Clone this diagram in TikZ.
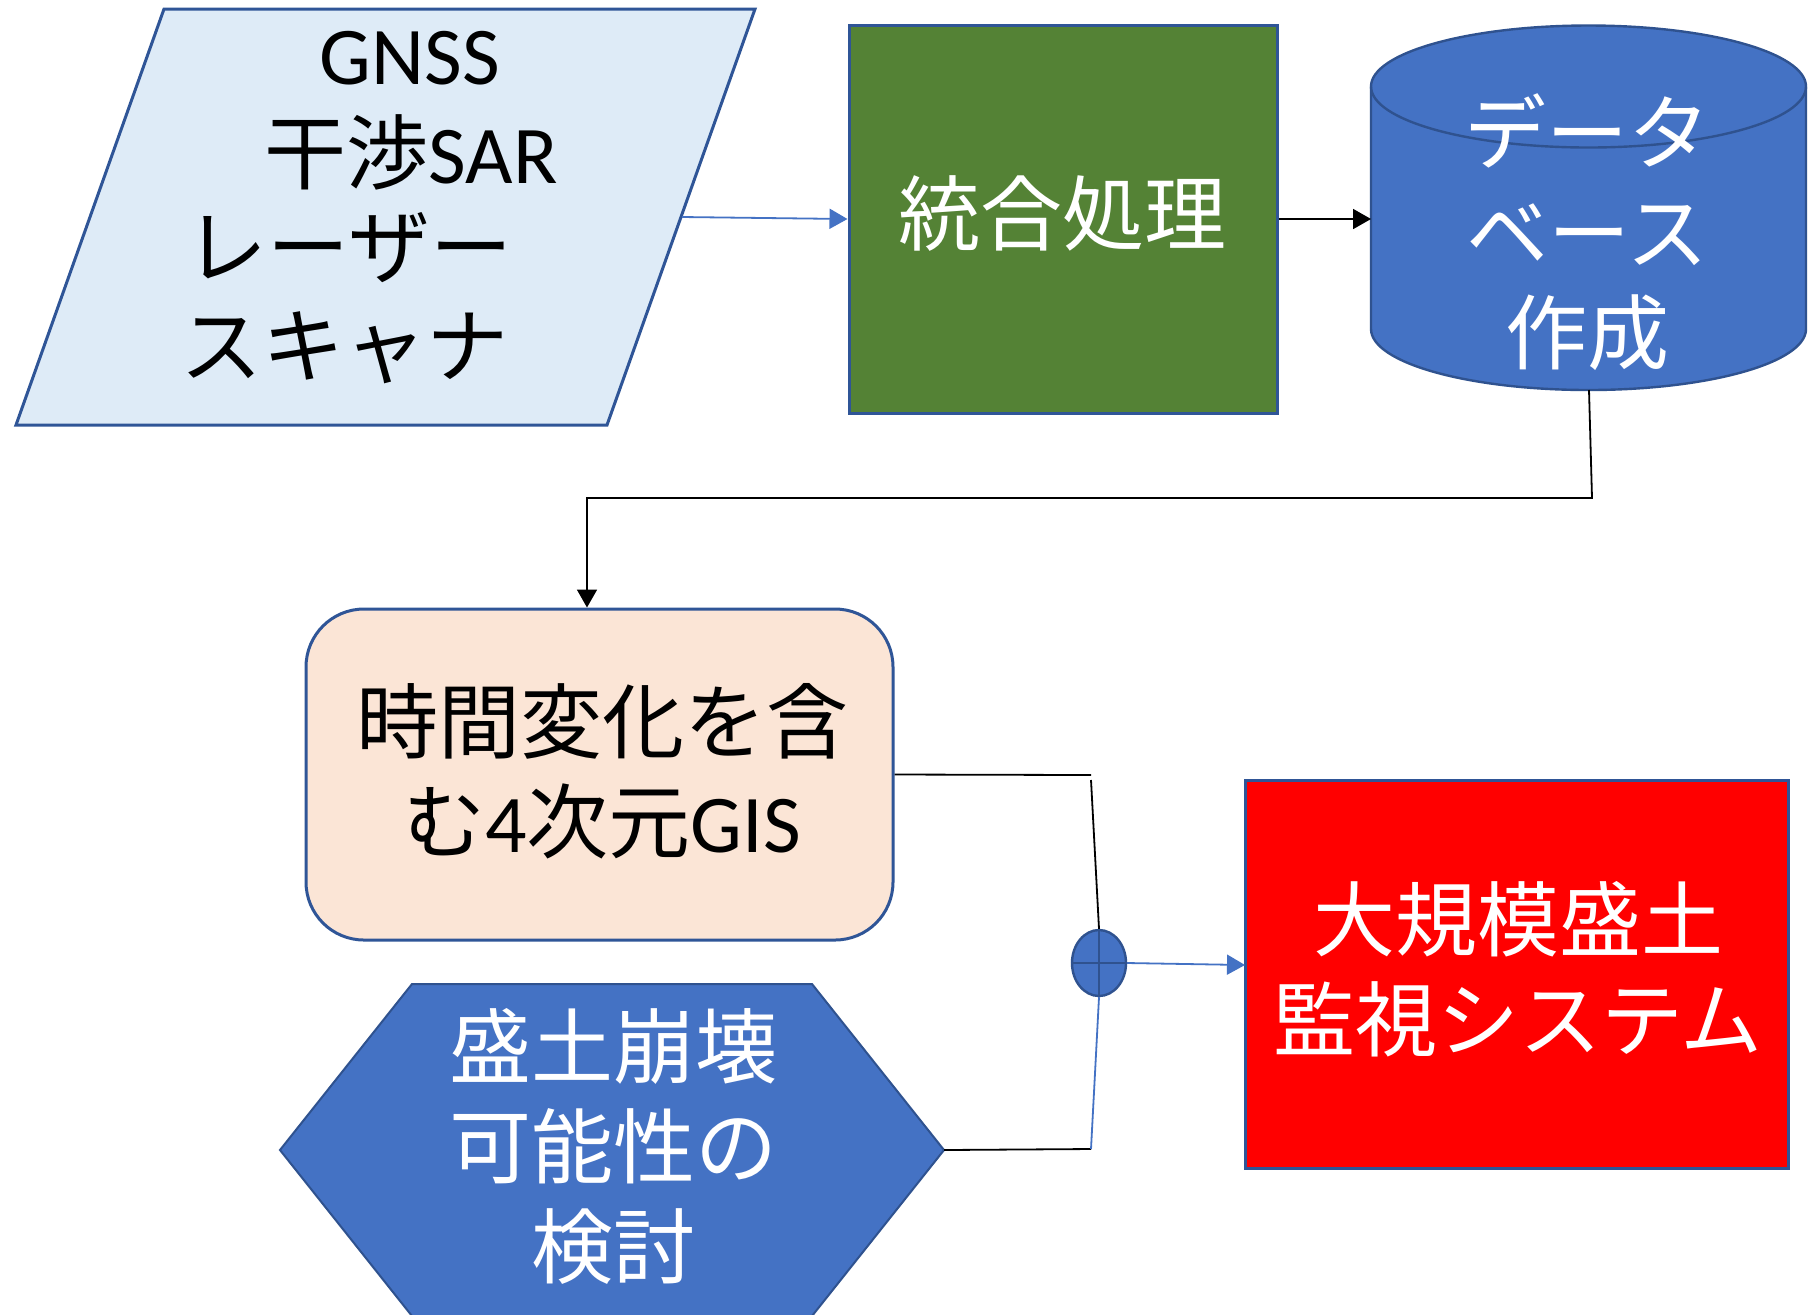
\documentclass[tikz,border=0pt]{standalone}
\usepackage{fontspec}
\setmainfont{Noto Sans CJK JP}
\newfontfamily\latf{Carlito}
\newcommand\LT[1]{{\latf #1}}
\usetikzlibrary{arrows.meta,shapes.geometric}
\definecolor{bord}{HTML}{2F5597}
\definecolor{cylb}{HTML}{2F528F}
\definecolor{accb}{HTML}{4472C4}
\definecolor{lblue}{HTML}{DEEBF7}
\definecolor{dgreen}{HTML}{548235}
\definecolor{peach}{HTML}{FBE5D6}
\begin{document}
\begin{tikzpicture}[x=0.5pt,y=-0.5pt,
  txt/.style={font=\fontsize{41}{50}\selectfont, align=center, inner sep=0pt},
  box/.style={draw=bord, line width=1.5pt, inner sep=0pt},
  conn/.style={line width=0.9pt},
  tip/.style={-{Triangle[length=9pt,width=10pt]}},
]
\useasboundingbox (0,0) rectangle (1809,1314);
\fill[white] (0,0) rectangle (1809,1314);
\clip (0,0) rectangle (1809,1314);

% input parallelogram
\draw[fill=lblue, draw=bord, line width=1.5pt] (164,9) -- (755,9) -- (607,425) -- (16,425) -- cycle;
\coordinate (pE) at (682,217);
\node[txt] (in1) at (410,58) {\LT{GNSS}};
\node[txt] (in2) at (411,152) {干渉\LT{SAR}};
\node[txt] (in3) at (349,248) {レーザー};
\node[txt] (in4) at (344,348) {スキャナ};

% integration
\node[box, fill=dgreen, minimum width=214pt, minimum height=194pt] (proc) at (1063,219) {};
\node[txt, text=white] (proct) at (1062,213) {統合処理};

% database cylinder
\draw[fill=accb, draw=cylb, line width=1.2pt]
  (1371,86.5) -- (1371,329) arc[start angle=180, end angle=360, x radius=108.75pt, y radius=30.5pt]
  -- (1806,86.5) arc[start angle=0, end angle=180, x radius=108.75pt, y radius=30.5pt] -- cycle;
\draw[draw=cylb, line width=1.2pt] (1371,86.5) arc[start angle=180, end angle=360, x radius=108.75pt, y radius=30.5pt];
\coordinate (cylW) at (1371,219);
\coordinate (cylS) at (1589,390);
\node[txt, text=white] (dbt) at (1587,232) {データ\\ベース\\作成};

% 4D GIS
\node[box, fill=peach, rounded corners=29pt, minimum width=293.5pt, minimum height=165.5pt] (gis) at (599.5,774.5) {};
\node[txt] (gist) at (602,771) {時間変化を含\\む\LT{4}次元\LT{GIS}};

% hexagon
\draw[fill=accb, draw=cylb, line width=1pt] (412,984) -- (812,984) -- (944,1150) -- (812,1316) -- (412,1316) -- (280,1150) -- cycle;
\coordinate (hexE) at (944,1150);
\node[txt, text=white] (hext) at (613,1146) {盛土崩壊\\可能性の\\検討};

% monitoring system
\node[box, fill=red, minimum width=271.5pt, minimum height=194pt] (mon) at (1516.5,974) {};
\node[txt, text=white] (mont) at (1518,969) {大規模盛土\\監視システム};

% summing junction
\node[draw=cylb, fill=accb, ellipse, line width=1.2pt, minimum width=27pt, minimum height=33pt, inner sep=0pt] (sum) at (1099,963) {};
\draw[cylb, line width=1.2pt] (sum.west) -- (sum.east) (sum.north) -- (sum.south);

% connectors
\draw[conn, accb, tip] (pE) -- (proc.west);
\draw[conn, tip] (proc.east) -- (cylW);
\coordinate (k1) at (1592,498);
\coordinate (k2) at (587,498);
\draw[conn, tip] (cylS) -- (k1) -- (k2) -- (k2 |- gis.north);
\coordinate (j1) at (1091,775);
\coordinate (j2) at (1091,780);
\coordinate (j3) at (1091,1149);
\coordinate (mIn) at (1245,965);
\draw[conn] (gis.east) -- (j1);
\draw[conn] (j2) -- (sum.north);
\draw[conn] (hexE) -- (j3);
\draw[conn, accb] (j3) -- (sum.south);
\draw[conn, accb, tip] (sum.east) -- (mIn);
\end{tikzpicture}
\end{document}
